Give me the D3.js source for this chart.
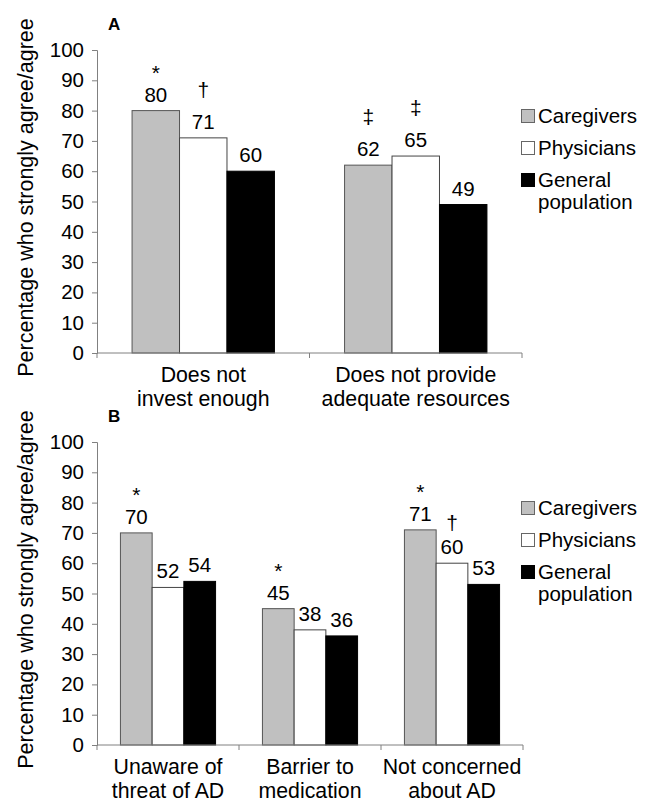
<!DOCTYPE html>
<html>
<head>
<meta charset="utf-8">
<script src="https://cdn.jsdelivr.net/npm/d3@7"></script>
<style>
  html, body { margin: 0; padding: 0; background: #fff; }
  svg text { font-family: "Liberation Sans", Arial, sans-serif; fill: #000; }
</style>
</head>
<body>
<svg id="chart" width="653" height="801"></svg>
<script>
// ---- Data ----
const seriesNames = ["Caregivers", "Physicians", "General population"];
const seriesFill = ["#c0c0c0", "#ffffff", "#000000"];
const seriesStroke = ["#555555", "#444444", "#000000"];
const yTicks = [0, 10, 20, 30, 40, 50, 60, 70, 80, 90, 100];

const categoriesA = ["Does not|invest enough", "Does not provide|adequate resources"];
const caregiversA = [80, 62];
const physiciansA = [71, 65];
const generalA = [60, 49];
const markersCaregiversA = ["*", "\u2021"];
const markersPhysiciansA = ["\u2020", "\u2021"];
const markersGeneralA = ["", ""];

const categoriesB = ["Unaware of|threat of AD", "Barrier to|medication", "Not concerned|about AD"];
const caregiversB = [70, 45, 71];
const physiciansB = [52, 38, 60];
const generalB = [54, 36, 53];
const markersCaregiversB = ["*", "*", "*"];
const markersPhysiciansB = ["", "", "\u2020"];
const markersGeneralB = ["", "", ""];

const yTitle = "Percentage who strongly agree/agree";

// ---- Drawing ----
const svg = d3.select("#chart");

function panel(opts) {
  const { letter, categories, values, markers, top, bottom, left, right, daggerGap } = opts;
  const g = svg.append("g");
  const y = d3.scaleLinear().domain([0, 100]).range([bottom, top]);
  const x = d3.scaleBand().domain(categories).range([left, right]).padding(0);
  const bw = x.bandwidth();
  const x1 = d3.scaleBand().domain(d3.range(seriesNames.length)).range([bw * 0.165, bw * 0.835]).padding(0);

  // y axis
  const yAxis = g.append("g").attr("transform", `translate(${left},0)`)
    .call(d3.axisLeft(y).tickValues(yTicks).tickSize(5).tickPadding(8));
  yAxis.select(".domain").attr("stroke", "#808080");
  yAxis.selectAll(".tick line").attr("stroke", "#808080");
  yAxis.selectAll(".tick text").style("font-size", "20.5px").attr("fill", "#000")
    .style("font-family", "Liberation Sans, Arial, sans-serif");

  // bars
  categories.forEach((c, ci) => {
    values.forEach((vals, si) => {
      const v = vals[ci];
      const bx = x(c) + x1(si);
      g.append("rect")
        .attr("x", bx).attr("y", y(v))
        .attr("width", x1.bandwidth()).attr("height", y(0) - y(v))
        .attr("fill", seriesFill[si]).attr("stroke", seriesStroke[si]).attr("stroke-width", 1);
      const cx = bx + x1.bandwidth() / 2;
      const lb = y(v) - 9;
      g.append("text").attr("x", cx).attr("y", lb).attr("text-anchor", "middle")
        .style("font-size", "20.5px").text(v);
      const m = markers[si][ci];
      if (m) {
        const gap = m === "*" ? 22 : daggerGap;
        g.append("text").attr("x", cx).attr("y", lb - gap).attr("text-anchor", "middle")
          .style("font-size", "21px").text(m);
      }
    });
  });

  // x axis
  const xAxis = g.append("g").attr("transform", `translate(0,${bottom})`);
  xAxis.append("line").attr("x1", left).attr("x2", right).attr("y1", 0).attr("y2", 0)
    .attr("stroke", "#808080");
  const bounds = categories.map(c => x(c)).concat([right]);
  bounds.forEach(b => {
    xAxis.append("line").attr("x1", b).attr("x2", b).attr("y1", 0).attr("y2", 5)
      .attr("stroke", "#808080");
  });
  categories.forEach(c => {
    const lines = c.split("|");
    const t = xAxis.append("text").attr("text-anchor", "middle").style("font-size", "21.3px")
      .attr("x", x(c) + bw / 2).attr("y", 29);
    lines.forEach((ln, i) => {
      t.append("tspan").attr("x", x(c) + bw / 2).attr("dy", i === 0 ? 0 : 23.5).text(ln);
    });
  });

  // y title
  g.append("text")
    .attr("transform", `translate(33,${(top + bottom) / 2 - 4}) rotate(-90)`)
    .attr("text-anchor", "middle").style("font-size", "21.5px").text(yTitle);

  // panel letter
  g.append("text").attr("x", 108).attr("y", top - 20)
    .style("font-size", "17px").style("font-weight", "bold").text(letter);

  // legend
  const lg = g.append("g");
  let by = top + 73;
  seriesNames.forEach((s, si) => {
    lg.append("rect").attr("x", 521.5).attr("y", by - 13.5).attr("width", 13).attr("height", 13)
      .attr("fill", seriesFill[si]).attr("stroke", si === 2 ? "#000" : "#666").attr("stroke-width", 1);
    const words = s === "General population" ? ["General", "population"] : [s];
    const t = lg.append("text").attr("x", 538).attr("y", by).style("font-size", "20.5px");
    words.forEach((w, wi) => t.append("tspan").attr("x", 538).attr("dy", wi === 0 ? 0 : 22).text(w));
    by += 32;
  });
}

panel({
  letter: "A", categories: categoriesA,
  values: [caregiversA, physiciansA, generalA],
  markers: [markersCaregiversA, markersPhysiciansA, markersGeneralA],
  top: 50, bottom: 353, left: 97, right: 522, daggerGap: 32
});
panel({
  letter: "B", categories: categoriesB,
  values: [caregiversB, physiciansB, generalB],
  markers: [markersCaregiversB, markersPhysiciansB, markersGeneralB],
  top: 442, bottom: 745, left: 97, right: 523, daggerGap: 24
});
</script>
</body>
</html>
